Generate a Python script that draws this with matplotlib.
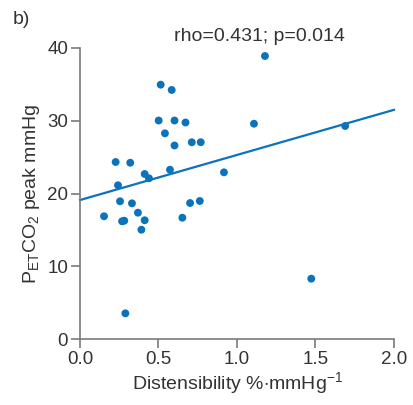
import numpy as np
import matplotlib
matplotlib.use("Agg")
import matplotlib.pyplot as plt


# =========================
# DATA
# =========================

distensibility = [
    0.514, 0.584, 0.501, 0.602, 0.672, 1.108, 1.178, 1.689,
    0.541, 0.602, 0.712, 0.769, 0.227, 0.320, 0.412, 0.439,
    0.573, 0.917, 0.242, 0.153, 0.255, 0.331, 0.369, 0.268,
    0.282, 0.412, 0.391, 0.652, 0.701, 0.763, 0.289, 1.473,
]

petco2_peak = [
    34.96, 34.23, 30.03, 30.03, 29.76, 29.59, 38.90, 29.28,
    28.27, 26.60, 27.04, 27.05, 24.33, 24.23, 22.68, 22.09,
    23.27, 22.91, 21.13, 16.87, 18.93, 18.65, 17.36, 16.18,
    16.26, 16.32, 15.02, 16.67, 18.69, 18.97, 3.53, 8.29,
]

fit_intercept = 19.1
fit_slope = 6.2
fit_range = [0.0, 2.0]

stats_label = "rho=0.431; p=0.014"
panel_label = "b)"

x_ticks = [0.0, 0.5, 1.0, 1.5, 2.0]
y_ticks = [0, 10, 20, 30, 40]


# =========================
# STYLE
# =========================

BLUE = "#0B72BC"
AXIS_GREY = "#7a7a7a"
TEXT_COL = "#333333"

plt.rcParams["font.family"] = ["Liberation Sans", "DejaVu Sans"]
plt.rcParams["mathtext.fontset"] = "custom"
plt.rcParams["mathtext.rm"] = "Liberation Sans"
plt.rcParams["mathtext.it"] = "Liberation Sans:italic"


# =========================
# PLOT
# =========================

fig = plt.figure(figsize=(4.14, 4.05), dpi=100)
ax = fig.add_axes([80 / 414, 66 / 405, 314 / 414, 291 / 405])

ax.scatter(distensibility, petco2_peak, s=32, color=BLUE, edgecolors="none", zorder=3)

fit_x = np.array(fit_range)
ax.plot(fit_x, fit_intercept + fit_slope * fit_x, color=BLUE, lw=1.6, zorder=2, clip_on=False)

ax.set_xlim(0, 2.0)
ax.set_ylim(0, 40)
ax.set_xticks(x_ticks)
ax.set_xticklabels([f"{t:.1f}" for t in x_ticks])
ax.set_yticks(y_ticks)

for side in ["top", "right"]:
    ax.spines[side].set_visible(False)
for side in ["left", "bottom"]:
    ax.spines[side].set_color(AXIS_GREY)
    ax.spines[side].set_linewidth(1.2)

ax.tick_params(axis="both", direction="out", length=6.5, width=1.2,
               color=AXIS_GREY, labelcolor=TEXT_COL, labelsize=13.5, pad=2)

ax.set_xlabel(r"Distensibility %$\cdot$mmHg$^{-1}$", fontsize=14, color=TEXT_COL, labelpad=2)
ax.set_ylabel(r"P$_{\mathrm{ET}}$CO$_{2}$ peak mmHg", fontsize=14, color=TEXT_COL, labelpad=4)

ax.text(1.14, 41.6, stats_label, ha="center", va="center", fontsize=14,
        color=TEXT_COL, clip_on=False)
fig.text(13 / 414, 1 - 20 / 405, panel_label, ha="left", va="center",
         fontsize=14, color=TEXT_COL)

plt.savefig("out.png", dpi=100)
plt.close()
